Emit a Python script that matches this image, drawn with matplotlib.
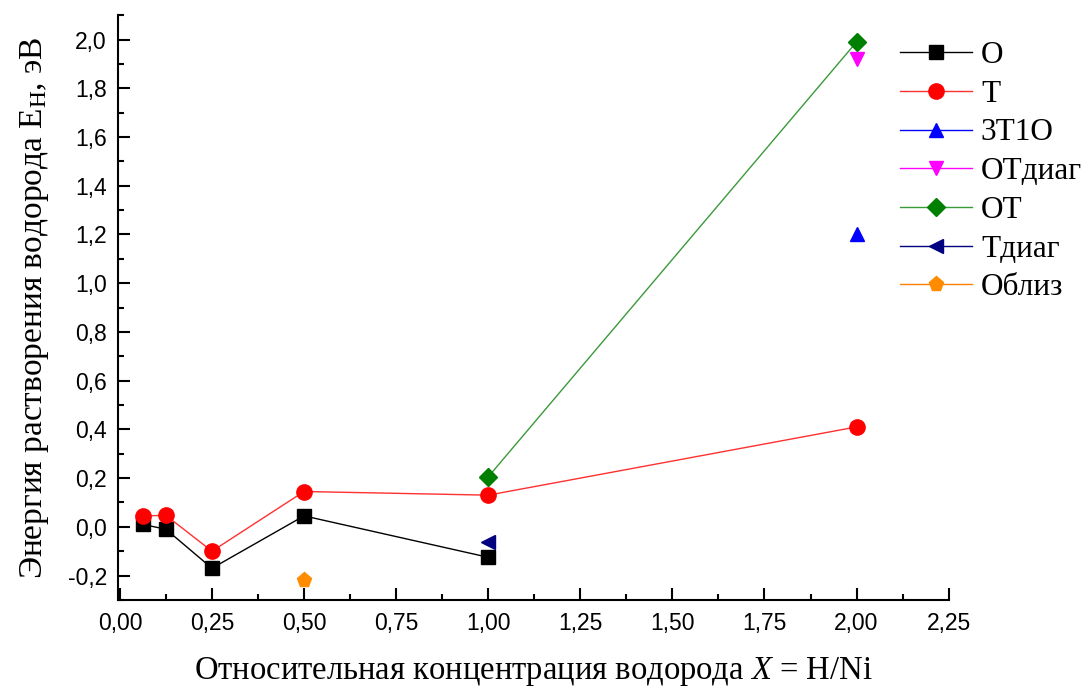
import matplotlib.pyplot as plt
from matplotlib.ticker import MultipleLocator

# data
x_O = [0.0625, 0.125, 0.25, 0.5, 1.0]
y_O = [0.01, -0.01, -0.17, 0.045, -0.125]

x_T = [0.0625, 0.125, 0.25, 0.5, 1.0, 2.0]
y_T = [0.045, 0.047, -0.10, 0.145, 0.13, 0.41]

x_3T1O = [2.0]
y_3T1O = [1.20]

x_OTdiag = [2.0]
y_OTdiag = [1.92]

x_OT = [1.0, 2.0]
y_OT = [0.205, 1.99]

x_Tdiag = [1.0]
y_Tdiag = [-0.062]

x_Obliz = [0.5]
y_Obliz = [-0.22]

serif = 'Liberation Serif'
sans = 'Liberation Sans'
plt.rcParams['mathtext.fontset'] = 'custom'
plt.rcParams['mathtext.it'] = 'Liberation Serif:italic'
plt.rcParams['mathtext.rm'] = 'Liberation Serif'

fig = plt.figure(figsize=(10.9, 6.88), dpi=100)
ax = fig.add_axes([0.1083, 0.128, 0.762, 0.85])

ms = 10
ax.plot(x_O, y_O, color='black', lw=1, marker='s', ms=ms, label='O')
ax.plot(x_T, y_T, color='#ff3030', lw=1, marker='o', ms=ms + 1, mfc='red', mec='red', label='T')
ax.plot(x_3T1O, y_3T1O, color='blue', lw=1, marker='^', ms=ms, label='3T1O')
ax.plot(x_OTdiag, y_OTdiag, color='magenta', lw=1, marker='v', ms=ms, label='OTдиаг')
ax.plot(x_OT, y_OT, color='#3a9a3a', lw=1, marker='D', ms=ms - 1, mfc='green', mec='green', label='OT')
ax.plot(x_Tdiag, y_Tdiag, color='navy', lw=1, marker='<', ms=ms, label='Tдиаг')
ax.plot(x_Obliz, y_Obliz, color='#ff8000', lw=1, marker='p', ms=ms + 1, mfc='#ff8c00', mec='#ff8c00', label='Облиз')

ax.set_xlim(-0.005, 2.25)
ax.set_ylim(-0.3, 2.1)
ax.xaxis.set_major_locator(MultipleLocator(0.25))
ax.xaxis.set_minor_locator(MultipleLocator(0.125))
ax.yaxis.set_major_locator(MultipleLocator(0.2))
ax.yaxis.set_minor_locator(MultipleLocator(0.1))
ax.xaxis.set_major_formatter(lambda v, p: f'{v:.2f}'.replace('.', ','))
ax.yaxis.set_major_formatter(lambda v, p: f'{v:.1f}'.replace('.', ',').replace('-0,0', '0,0'))

ax.spines['top'].set_visible(False)
ax.spines['right'].set_visible(False)
for s in ('left', 'bottom'):
    ax.spines[s].set_linewidth(1.5)
ax.tick_params(which='major', direction='in', length=8.5, width=1.5, labelsize=16.5)
ax.tick_params(which='minor', direction='in', length=4.5, width=1.5)
ax.tick_params(axis='x', pad=9)
ax.tick_params(axis='y', pad=8)
for lab in ax.get_xticklabels() + ax.get_yticklabels():
    lab.set_fontfamily(sans)

ax.set_xlabel('Относительная концентрация водорода $\\mathit{X}$ = H/Ni',
              fontsize=23.5, family=serif, labelpad=14)
ax.set_ylabel('Энергия растворения водорода E$_\\mathregular{H}$, эВ',
              fontsize=24, family=serif, labelpad=12)

ax.legend(loc='upper left', bbox_to_anchor=(0.926, 0.977), frameon=False,
          prop={'family': serif, 'size': 22.5}, handlelength=2.3,
          labelspacing=0.31, handletextpad=0.3, borderaxespad=0)

fig.savefig('out.png', dpi=100)
